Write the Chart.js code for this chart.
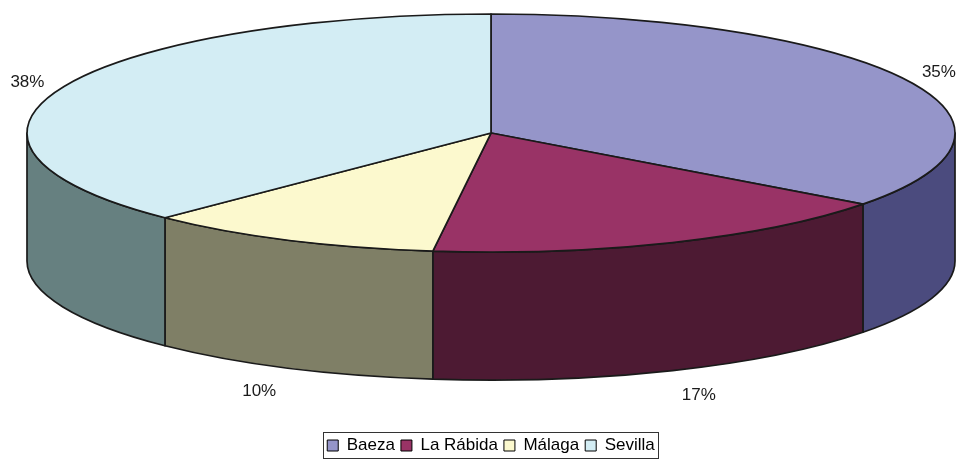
<!DOCTYPE html>
<html>
<head>
<meta charset="utf-8">
<script src="https://cdn.jsdelivr.net/npm/chart.js@4.4.1/dist/chart.umd.min.js"></script>
<style>
  html, body { margin: 0; padding: 0; background: #fff; }
  #wrap { width: 959px; height: 464px; }
</style>
</head>
<body>
<div id="wrap"><canvas id="chartRef"></canvas></div>
<script>
const categories = ["Baeza", "La Rábida", "Málaga", "Sevilla"];
const values = [35.2, 16.8, 10.4, 37.6];
const topColors = ["#9595C9", "#993366", "#FCF9CE", "#D3EDF4"];
const sideColors = ["#4B4B7E", "#4D1A33", "#7F7F66", "#668080"];

const pie3d = {
    id: "pie3d",
    beforeDatasetsDraw(chart) {
        const { ctx, chartArea: { left, right, top } } = chart;
        const arcs = chart.getDatasetMeta(0).data;
        const rx = (right - left) / 2;
        const ry = rx * 0.2565;
        const depth = rx * 0.276;
        const cx = left + rx;
        const cy = top + ry;
        const total = values.reduce((a, b) => a + b, 0);

        ctx.save();
        ctx.lineWidth = 1.7;
        ctx.strokeStyle = "#1a1a1a";
        ctx.lineJoin = "round";

        // side walls, only the front half is visible
        arcs.forEach((arc, i) => {
            const a = Math.max(arc.startAngle, 0);
            const b = Math.min(arc.endAngle, Math.PI);
            if (b <= a) return;
            ctx.beginPath();
            ctx.ellipse(cx, cy, rx, ry, 0, a, b, false);
            ctx.lineTo(cx + rx * Math.cos(b), cy + ry * Math.sin(b) + depth);
            ctx.ellipse(cx, cy + depth, rx, ry, 0, b, a, true);
            ctx.closePath();
            ctx.fillStyle = sideColors[i];
            ctx.fill();
            ctx.stroke();
        });

        // top faces
        arcs.forEach((arc, i) => {
            ctx.beginPath();
            ctx.moveTo(cx, cy);
            ctx.ellipse(cx, cy, rx, ry, 0, arc.startAngle, arc.endAngle, false);
            ctx.closePath();
            ctx.fillStyle = topColors[i];
            ctx.fill();
            ctx.stroke();
        });

        // percentage labels
        ctx.font = "17px 'Liberation Sans', Arial, sans-serif";
        ctx.fillStyle = "#1a1a1a";
        ctx.textAlign = "center";
        ctx.textBaseline = "middle";
        arcs.forEach((arc, i) => {
            const mid = (arc.startAngle + arc.endAngle) / 2;
            const s = Math.sin(mid);
            const front = Math.max(0, s);
            const kx = 1.08 + 0.07 * front;
            const ky = 1.13 + 0.1 * front;
            const x = cx + rx * kx * Math.cos(mid);
            const y = cy + ry * ky * s + (s > 0 ? depth : 0);
            ctx.fillText(Math.round(values[i] / total * 100) + "%", x, y);
        });
        ctx.restore();
        return false;
    },
    afterDraw(chart) {
        const boxes = chart.legend.legendHitBoxes;
        if (!boxes || !boxes.length) return;
        const { ctx } = chart;
        const l = Math.min(...boxes.map(b => b.left));
        const r = Math.max(...boxes.map(b => b.left + b.width));
        const t = Math.min(...boxes.map(b => b.top));
        const btm = Math.max(...boxes.map(b => b.top + b.height));
        ctx.save();
        ctx.strokeStyle = "#333";
        ctx.lineWidth = 1;
        ctx.strokeRect(Math.round(l) - 3.5, Math.round(t) - 4.5, Math.round(r - l) + 7, Math.round(btm - t) + 9);
        ctx.restore();
    }
};

new Chart(document.getElementById("chartRef"), {
    type: "pie",
    data: {
        labels: categories,
        datasets: [{
            data: values,
            backgroundColor: topColors,
            borderColor: "#000",
            borderWidth: 1
        }]
    },
    options: {
        responsive: true,
        maintainAspectRatio: false,
        animation: false,
        layout: { padding: { left: 27, right: 4, top: 14, bottom: 0 } },
        plugins: {
            tooltip: { enabled: false },
            legend: {
                position: "bottom",
                labels: {
                    boxWidth: 11,
                    boxHeight: 11,
                    padding: 6,
                    color: "#000",
                    font: { family: "'Liberation Sans', Arial, sans-serif", size: 17 }
                }
            }
        }
    },
    plugins: [pie3d]
});
</script>
</body>
</html>
